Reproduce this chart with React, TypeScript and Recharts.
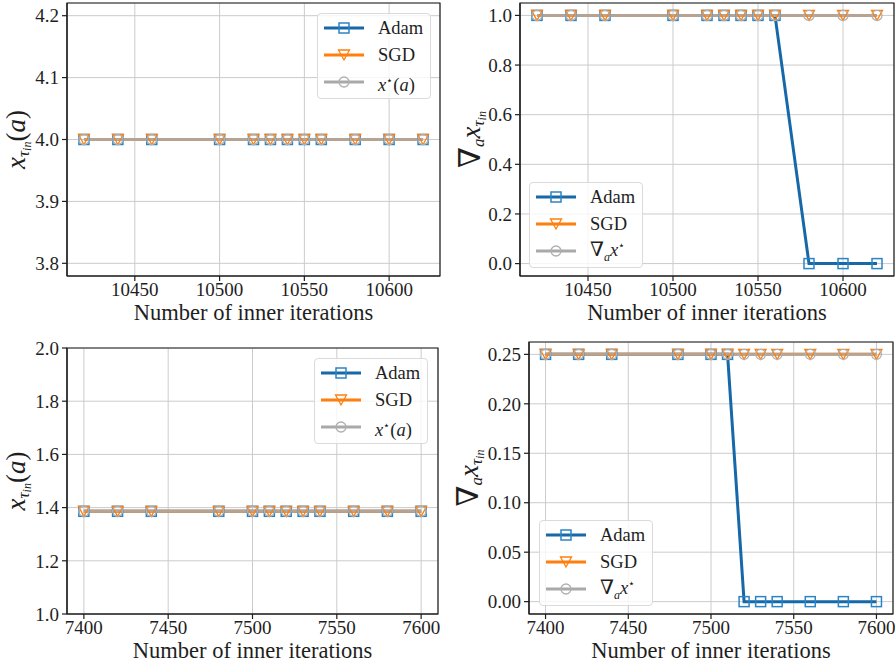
import React from 'react';
import { LineChart, Line, XAxis, YAxis, CartesianGrid, Legend, ReferenceArea } from 'recharts';

// ---------- data ----------
const topIters = [10420, 10440, 10460, 10500, 10520, 10530, 10540, 10550, 10560, 10580, 10600, 10620];
const topAdamX = [4.0, 4.0, 4.0, 4.0, 4.0, 4.0, 4.0, 4.0, 4.0, 4.0, 4.0, 4.0];
const topSgdX = [4.0, 4.0, 4.0, 4.0, 4.0, 4.0, 4.0, 4.0, 4.0, 4.0, 4.0, 4.0];
const topStarX = [4.0, 4.0, 4.0, 4.0, 4.0, 4.0, 4.0, 4.0, 4.0, 4.0, 4.0, 4.0];
const topAdamGrad = [1, 1, 1, 1, 1, 1, 1, 1, 1, 0, 0, 0];
const topSgdGrad = [1, 1, 1, 1, 1, 1, 1, 1, 1, 1, 1, 1];
const topStarGrad = [1, 1, 1, 1, 1, 1, 1, 1, 1, 1, 1, 1];

const bottomIters = [7400, 7420, 7440, 7480, 7500, 7510, 7520, 7530, 7540, 7560, 7580, 7600];
const bottomAdamX = [1.386, 1.386, 1.386, 1.386, 1.386, 1.386, 1.386, 1.386, 1.386, 1.386, 1.386, 1.386];
const bottomSgdX = [1.386, 1.386, 1.386, 1.386, 1.386, 1.386, 1.386, 1.386, 1.386, 1.386, 1.386, 1.386];
const bottomStarX = [1.386, 1.386, 1.386, 1.386, 1.386, 1.386, 1.386, 1.386, 1.386, 1.386, 1.386, 1.386];
const bottomAdamGrad = [0.25, 0.25, 0.25, 0.25, 0.25, 0.25, 0, 0, 0, 0, 0, 0];
const bottomSgdGrad = [0.25, 0.25, 0.25, 0.25, 0.25, 0.25, 0.25, 0.25, 0.25, 0.25, 0.25, 0.25];
const bottomStarGrad = [0.25, 0.25, 0.25, 0.25, 0.25, 0.25, 0.25, 0.25, 0.25, 0.25, 0.25, 0.25];

// ---------- ticks / domains ----------
const topXTicks = [10450, 10500, 10550, 10600];
const bottomXTicks = [7400, 7450, 7500, 7550, 7600];
const tlYTicks = [3.8, 3.9, 4.0, 4.1, 4.2];
const trYTicks = [0, 0.2, 0.4, 0.6, 0.8, 1.0];
const blYTicks = [1.0, 1.2, 1.4, 1.6, 1.8, 2.0];
const brYTicks = [0, 0.05, 0.1, 0.15, 0.2, 0.25];
const topXDomain: [number, number] = [10410, 10630];
const bottomXDomain: [number, number] = [7390, 7610];
const tlYDomain: [number, number] = [3.7795, 4.2205];
const trYDomain: [number, number] = [-0.05, 1.05];
const blYDomain: [number, number] = [1.0, 2.0];
const brYDomain: [number, number] = [-0.0125, 0.2625];

const X_LABEL = 'Number of inner iterations';
const LEGEND_NAMES = ['Adam', 'SGD'];

// ---------- style ----------
const FONT = '"Liberation Serif", "DejaVu Serif", serif';
const INK = '#1e1e1e';
const ADAM_LINE = '#1668a8';
const ADAM_MARK = '#2c84c4';
const SGD_COLOR = '#ff7f0e';
const STAR_LINE = '#a9a9a9';
const STAR_MARK = '#b0b0b0';

const squareDot = (p: any) =>
  p.cx == null || p.cy == null ? <g key={`sq-${p.index}`} /> : (
    <rect key={`sq-${p.index}`} x={p.cx - 5} y={p.cy - 5} width={10} height={10} fill="none" stroke={ADAM_MARK} strokeWidth={1.5} />
  );
const triDot = (p: any) =>
  p.cx == null || p.cy == null ? <g key={`tr-${p.index}`} /> : (
    <polygon key={`tr-${p.index}`} points={`${p.cx - 5.5},${p.cy - 5} ${p.cx + 5.5},${p.cy - 5} ${p.cx},${p.cy + 5}`} fill="none" stroke={SGD_COLOR} strokeWidth={1.3} />
  );
const circDot = (p: any) =>
  p.cx == null || p.cy == null ? <g key={`ci-${p.index}`} /> : (
    <circle key={`ci-${p.index}`} cx={p.cx} cy={p.cy} r={5} fill="none" stroke={STAR_MARK} strokeWidth={1.3} />
  );

function XStarLabel({ x, y }: { x: number; y: number }) {
  return (
    <text transform={`translate(${x},${y}) rotate(-90)`} textAnchor="middle" fontFamily={FONT} fontSize={27} fill={INK}>
      <tspan fontStyle="italic">x</tspan>
      <tspan fontStyle="italic" fontSize={17} dy={4}>τ</tspan>
      <tspan fontStyle="italic" fontSize={12} dy={2}>in</tspan>
      <tspan dy={-6}>(</tspan>
      <tspan fontStyle="italic">a</tspan>
      <tspan>)</tspan>
    </text>
  );
}

function GradLabel({ x, y }: { x: number; y: number }) {
  return (
    <text transform={`translate(${x},${y}) rotate(-90)`} textAnchor="middle" fontFamily={FONT} fontSize={27} fill={INK}>
      <tspan fontSize={30}>∇</tspan>
      <tspan fontStyle="italic" fontSize={17} dy={4}>a</tspan>
      <tspan fontStyle="italic" dy={-4}>x</tspan>
      <tspan fontStyle="italic" fontSize={17} dy={4}>τ</tspan>
      <tspan fontStyle="italic" fontSize={12} dy={2}>in</tspan>
    </text>
  );
}

function LegendMarker({ kind }: { kind: number }) {
  const color = kind === 0 ? ADAM_LINE : kind === 1 ? SGD_COLOR : STAR_LINE;
  return (
    <svg width={42} height={24} style={{ display: 'block' }}>
      <line x1={1} y1={12} x2={41} y2={12} stroke={color} strokeWidth={3} />
      {kind === 0 && <rect x={16} y={7} width={10} height={10} fill="none" stroke={ADAM_MARK} strokeWidth={1.5} />}
      {kind === 1 && <polygon points="15.5,7 26.5,7 21,17" fill="none" stroke={SGD_COLOR} strokeWidth={1.3} />}
      {kind === 2 && <circle cx={21} cy={12} r={5} fill="none" stroke={STAR_MARK} strokeWidth={1.3} />}
    </svg>
  );
}

function LegendBox({ grad }: { grad: boolean }) {
  const third = grad ? (
    <span><span style={{ fontSize: 20 }}>∇</span><sub style={{ fontStyle: 'italic', fontSize: 12 }}>a</sub><i>x</i><sup style={{ fontSize: 11 }}>⋆</sup></span>
  ) : (
    <span><i>x</i><sup style={{ fontSize: 11 }}>⋆</sup>(<i>a</i>)</span>
  );
  const labels: React.ReactNode[] = [LEGEND_NAMES[0], LEGEND_NAMES[1], third];
  return (
    <div
      style={{
        position: 'relative',
        width: 114,
        height: 86,
        border: '1px solid #dadada',
        borderRadius: 4,
        background: 'rgba(255,255,255,0.8)',
        boxSizing: 'border-box',
        fontFamily: FONT,
        color: INK,
      }}
    >
      {labels.map((lab, i) => (
        <div key={i} style={{ position: 'absolute', left: 5, top: 2 + 27 * i, height: 24, display: 'flex', alignItems: 'center' }}>
          <LegendMarker kind={i} />
          <span style={{ marginLeft: 13, fontSize: 18.5, lineHeight: '24px', whiteSpace: 'nowrap' }}>{lab}</span>
        </div>
      ))}
    </div>
  );
}

type PanelCfg = {
  left: number;
  top: number;
  width: number;
  height: number;
  margin: { top: number; right: number; bottom: number; left: number };
  yAxisWidth: number;
  xAxisHeight: number;
  iters: number[];
  adam: number[];
  sgd: number[];
  star: number[];
  xDomain: [number, number];
  xTicks: number[];
  yDomain: [number, number];
  yTicks: number[];
  yDigits: number;
  grad: boolean;
  labelX: number;
  legendLeft: number;
  legendTop: number;
};

function Panel({ cfg }: { cfg: PanelCfg }) {
  const rows = cfg.iters.map((it, i) => ({ it, adam: cfg.adam[i], sgd: cfg.sgd[i], star: cfg.star[i] }));
  const plotTop = cfg.margin.top;
  const plotBottom = cfg.height - cfg.margin.bottom - cfg.xAxisHeight;
  const labelY = (plotTop + plotBottom) / 2;
  const tickStyle = { fill: INK, fontSize: 19, fontFamily: FONT };
  return (
    <div style={{ position: 'absolute', left: cfg.left, top: cfg.top }}>
      <LineChart width={cfg.width} height={cfg.height} data={rows} margin={cfg.margin}>
        <CartesianGrid stroke="#cbcbcb" strokeWidth={1} />
        <XAxis
          dataKey="it"
          type="number"
          domain={cfg.xDomain}
          ticks={cfg.xTicks}
          interval={0}
          allowDataOverflow
          height={cfg.xAxisHeight}
          tickSize={5}
          tickMargin={2}
          stroke={INK}
          strokeWidth={1.2}
          tick={tickStyle}
          label={{ value: X_LABEL, position: 'insideBottom', offset: 10, fill: INK, fontSize: 22.5, fontFamily: FONT }}
        />
        <YAxis
          type="number"
          domain={cfg.yDomain}
          ticks={cfg.yTicks}
          interval={0}
          allowDataOverflow
          width={cfg.yAxisWidth}
          tickSize={5}
          tickMargin={3}
          stroke={INK}
          strokeWidth={1.2}
          tick={tickStyle}
          tickFormatter={(v: number) => v.toFixed(cfg.yDigits)}
          label={{
            content: () => (cfg.grad ? <GradLabel x={cfg.labelX} y={labelY} /> : <XStarLabel x={cfg.labelX} y={labelY} />),
          }}
        />
        <ReferenceArea
          x1={cfg.xDomain[0]}
          x2={cfg.xDomain[1]}
          y1={cfg.yDomain[0]}
          y2={cfg.yDomain[1]}
          fill="none"
          fillOpacity={0}
          stroke={INK}
          strokeWidth={1.2}
          ifOverflow="visible"
        />
        <Line dataKey="adam" stroke={ADAM_LINE} strokeWidth={3} dot={squareDot} activeDot={false} isAnimationActive={false} />
        <Line dataKey="sgd" stroke={SGD_COLOR} strokeWidth={3} dot={triDot} activeDot={false} isAnimationActive={false} />
        <Line dataKey="star" stroke={STAR_LINE} strokeOpacity={0.85} strokeWidth={3} dot={circDot} activeDot={false} isAnimationActive={false} />
        <Legend
          layout="horizontal"
          verticalAlign="middle"
          align="center"
          wrapperStyle={{ left: cfg.legendLeft, top: cfg.legendTop, width: 114, height: 86 }}
          content={() => <LegendBox grad={cfg.grad} />}
        />
      </LineChart>
    </div>
  );
}

const panels: PanelCfg[] = [
  {
    left: 0, top: 0, width: 448, height: 330,
    margin: { top: 3, right: 8, bottom: 0, left: 0 }, yAxisWidth: 67, xAxisHeight: 54,
    iters: topIters, adam: topAdamX, sgd: topSgdX, star: topStarX,
    xDomain: topXDomain, xTicks: topXTicks, yDomain: tlYDomain, yTicks: tlYTicks, yDigits: 1,
    grad: false, labelX: 25, legendLeft: 317, legendTop: 13,
  },
  {
    left: 450, top: 0, width: 445, height: 330,
    margin: { top: 3, right: 1, bottom: 0, left: 0 }, yAxisWidth: 70, xAxisHeight: 54,
    iters: topIters, adam: topAdamGrad, sgd: topSgdGrad, star: topStarGrad,
    xDomain: topXDomain, xTicks: topXTicks, yDomain: trYDomain, yTicks: trYTicks, yDigits: 1,
    grad: true, labelX: 30, legendLeft: 79, legendTop: 182,
  },
  {
    left: 0, top: 330, width: 448, height: 338,
    margin: { top: 18, right: 10, bottom: 0, left: 0 }, yAxisWidth: 67, xAxisHeight: 54,
    iters: bottomIters, adam: bottomAdamX, sgd: bottomSgdX, star: bottomStarX,
    xDomain: bottomXDomain, xTicks: bottomXTicks, yDomain: blYDomain, yTicks: blYTicks, yDigits: 1,
    grad: false, labelX: 25, legendLeft: 314, legendTop: 28,
  },
  {
    left: 450, top: 330, width: 445, height: 338,
    margin: { top: 12, right: 2, bottom: 0, left: 0 }, yAxisWidth: 79, xAxisHeight: 54,
    iters: bottomIters, adam: bottomAdamGrad, sgd: bottomSgdGrad, star: bottomStarGrad,
    xDomain: bottomXDomain, xTicks: bottomXTicks, yDomain: brYDomain, yTicks: brYTicks, yDigits: 2,
    grad: true, labelX: 28, legendLeft: 89, legendTop: 190,
  },
];

export default function App() {
  return (
    <div style={{ position: 'absolute', left: 0, top: 0, width: 895, height: 668, background: '#fff', fontFamily: FONT }}>
      {panels.map((cfg, i) => (
        <Panel key={i} cfg={cfg} />
      ))}
    </div>
  );
}
